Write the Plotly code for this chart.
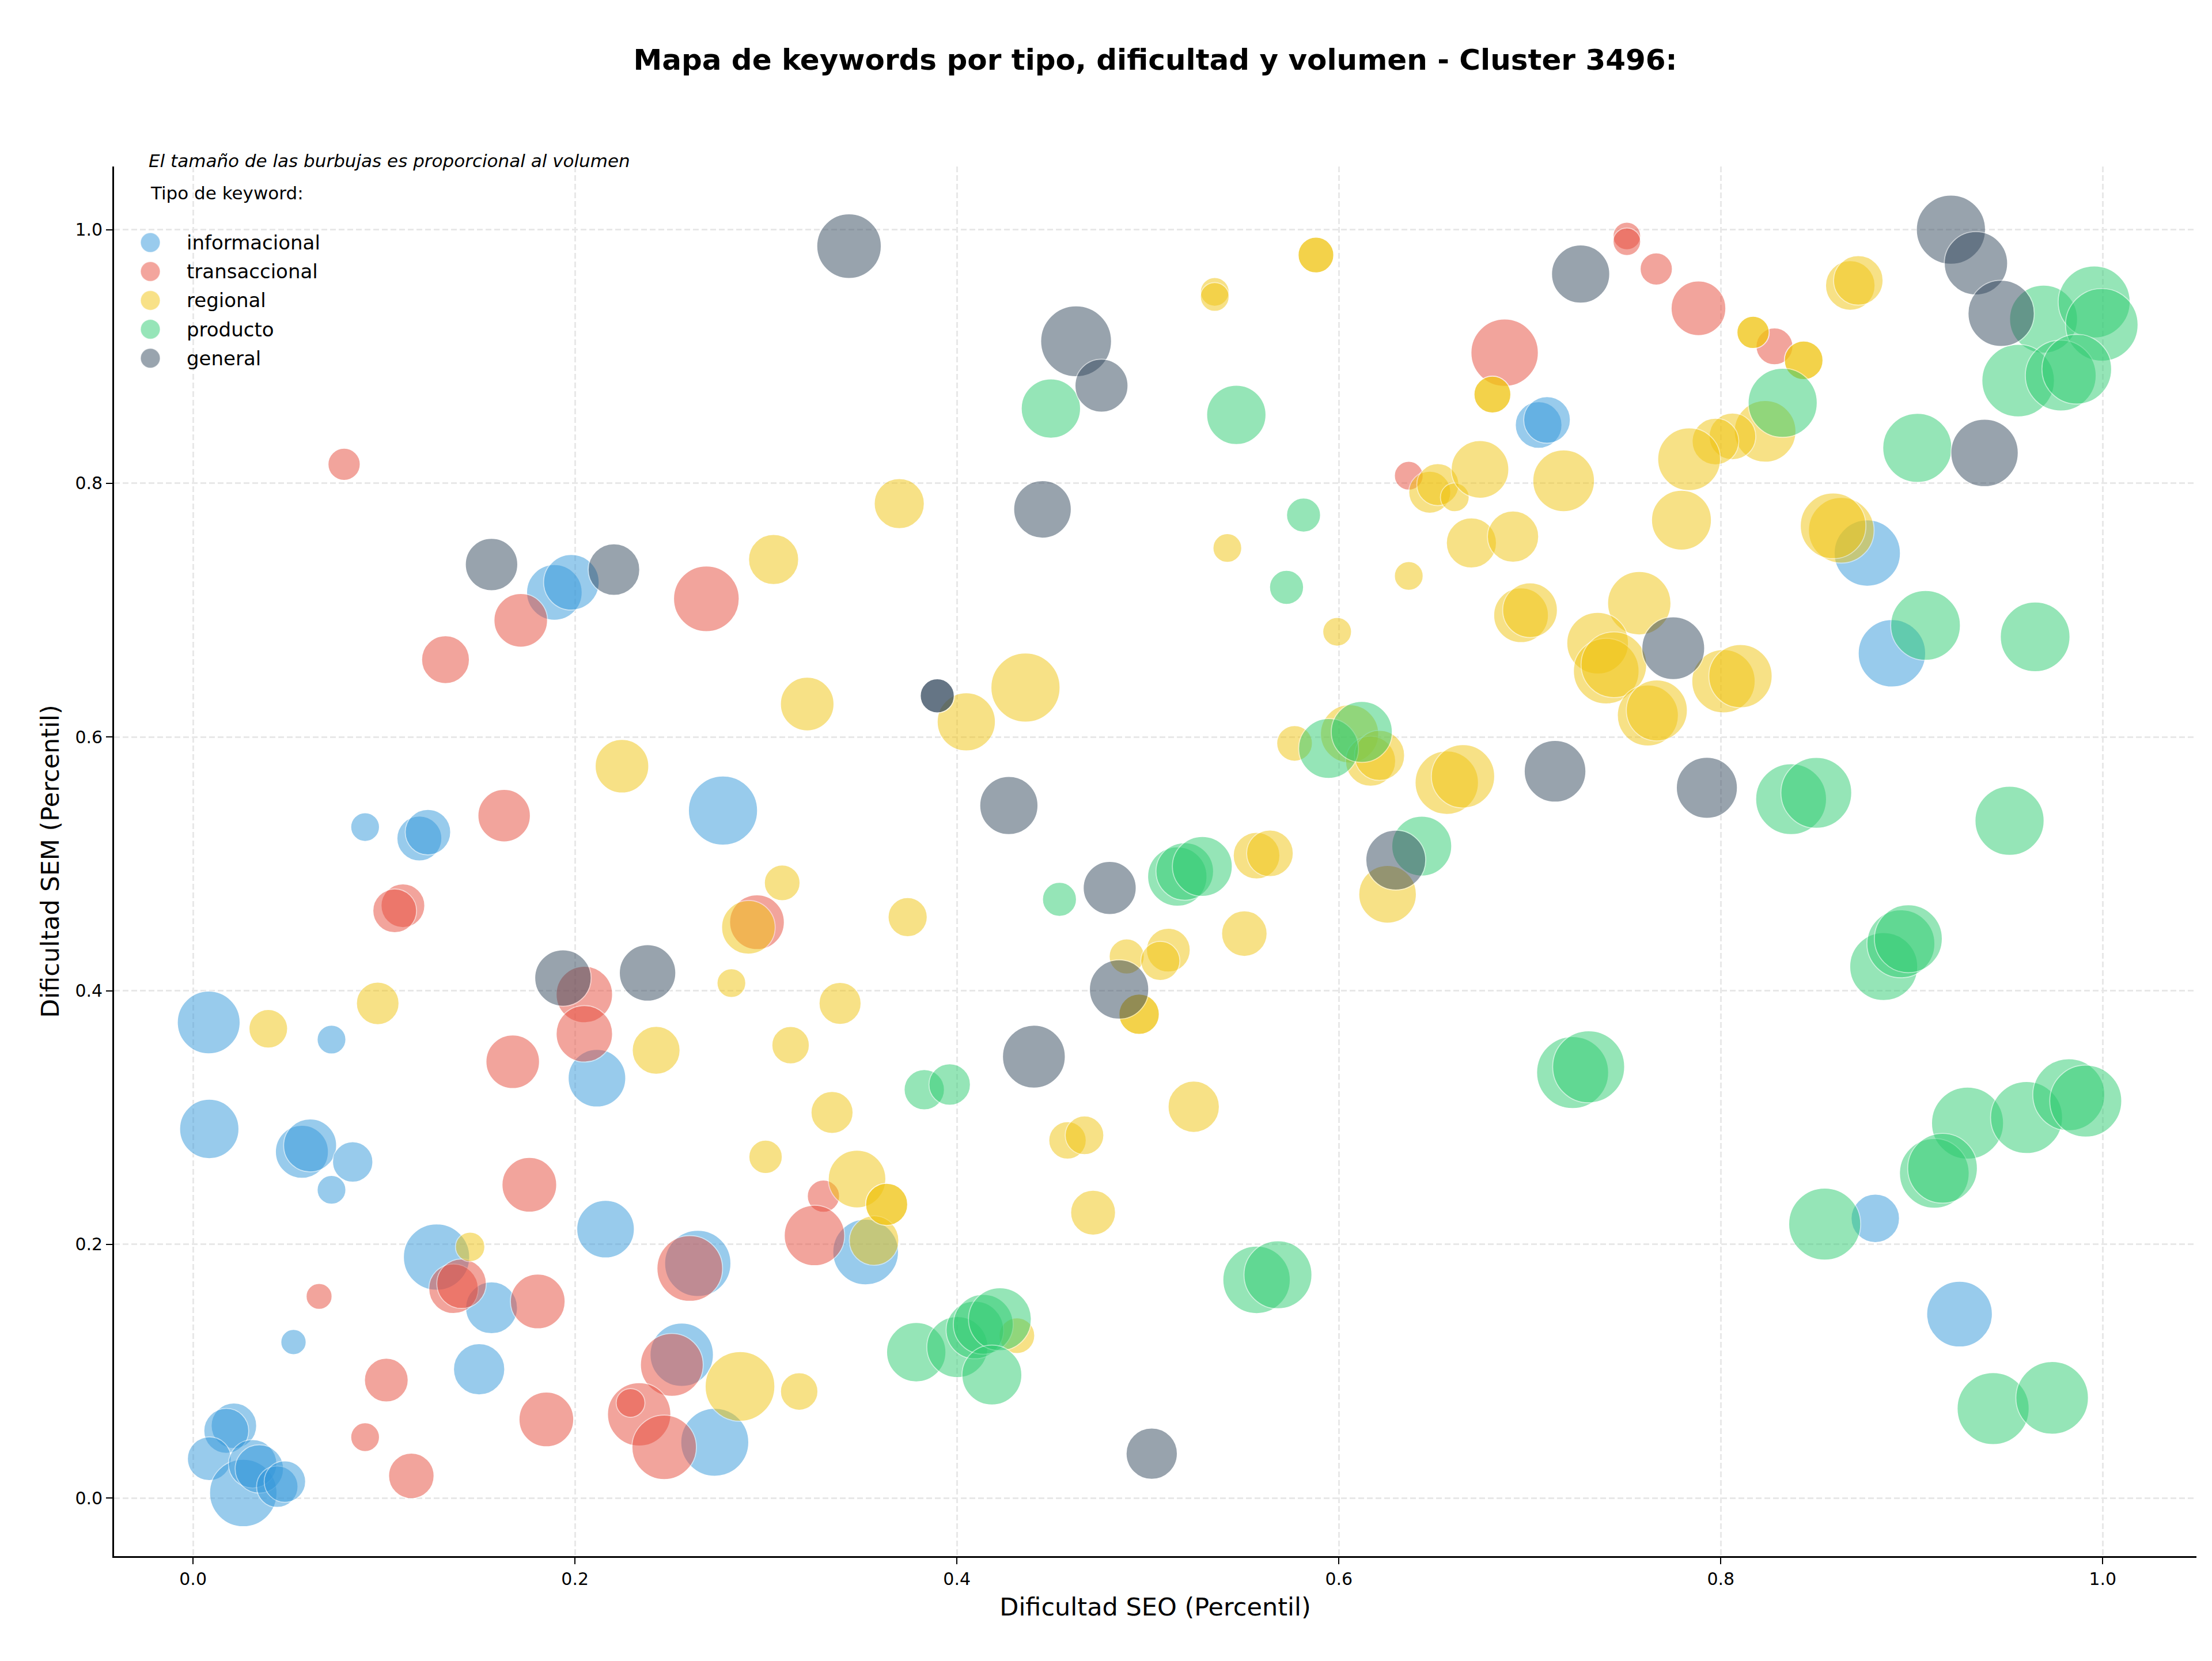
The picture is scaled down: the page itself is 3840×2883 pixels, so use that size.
import plotly.graph_objects as go

# ---------------- data ----------------
tipos = ["informacional", "transaccional", "regional", "producto", "general"]

x_informacional = [0.1892, 0.1981, 0.2775, 0.0901, 0.1185, 0.1230, 0.0082, 0.0725, 0.2115, 0.0085,
                   0.0570, 0.0613, 0.0836, 0.0725, 0.2160, 0.1275, 0.1563, 0.0526, 0.1498, 0.2643,
                   0.2559, 0.2732, 0.0214, 0.0174, 0.0085, 0.0263, 0.0312, 0.0347, 0.0441, 0.0481,
                   0.3522, 0.7046, 0.7090, 0.8767, 0.8896, 0.8809, 0.9250]
y_informacional = [0.714, 0.722, 0.542, 0.529, 0.520, 0.525, 0.375, 0.3615, 0.331, 0.291,
                   0.273, 0.278, 0.265, 0.243, 0.212, 0.190, 0.150, 0.123, 0.1015, 0.185,
                   0.113, 0.044, 0.057, 0.053, 0.031, 0.004, 0.027, 0.023, 0.009, 0.013,
                   0.194, 0.846, 0.850, 0.745, 0.666, 0.2205, 0.145]
vol_informacional = [582, 582, 900, 156, 380, 390, 743, 156, 625, 663,
                     529, 529, 306, 156, 625, 827, 506, 121, 495, 827,
                     756, 870, 390, 380, 361, 856, 441, 441, 324, 324,
                     812, 410, 410, 827, 856, 441, 812]

x_transaccional = [0.0791, 0.1716, 0.1322, 0.2688, 0.1629, 0.1099, 0.1056, 0.2953, 0.2049, 0.2049,
                   0.1674, 0.1761, 0.3301, 0.3254, 0.1364, 0.1406, 0.1805, 0.0660, 0.1012, 0.0901,
                   0.1143, 0.1850, 0.2601, 0.2507, 0.2336, 0.2291, 0.2467, 0.6868, 0.6366, 0.7508,
                   0.7508, 0.7662, 0.7883, 0.8281]
y_transaccional = [0.815, 0.692, 0.661, 0.709, 0.538, 0.467, 0.463, 0.454, 0.397, 0.366,
                   0.344, 0.247, 0.238, 0.207, 0.165, 0.169, 0.155, 0.159, 0.093, 0.048,
                   0.0175, 0.062, 0.181, 0.105, 0.066, 0.075, 0.040, 0.903, 0.806, 0.995,
                   0.9905, 0.969, 0.938, 0.908]
vol_transaccional = [196, 541, 431, 812, 518, 361, 361, 564, 600, 600,
                     541, 564, 196, 689, 462, 462, 564, 127, 361, 156,
                     390, 564, 812, 743, 756, 156, 784, 856, 156, 144,
                     144, 196, 564, 256]

x_regional = [0.3040, 0.3216, 0.2246, 0.3085, 0.2908, 0.2819, 0.0394, 0.0967, 0.2425, 0.3129,
              0.2998, 0.1451, 0.2864, 0.3174, 0.5880, 0.5350, 0.5350, 0.6804, 0.6476, 0.6518,
              0.6607, 0.6739, 0.6694, 0.6912, 0.5416, 0.6366, 0.5991, 0.3698, 0.4049, 0.4359,
              0.5768, 0.6056, 0.6166, 0.6213, 0.6565, 0.6650, 0.8169, 0.8434, 0.8678, 0.8720,
              0.8232, 0.8061, 0.7972, 0.7834, 0.7177, 0.7794, 0.8631, 0.8588, 0.6954, 0.7001,
              0.7573, 0.7355, 0.7400, 0.7440, 0.7618, 0.7665, 0.8014, 0.8103, 0.5569, 0.5639,
              0.6255, 0.3742, 0.4889, 0.5107, 0.5065, 0.5505, 0.4954, 0.3388, 0.3346, 0.4579,
              0.4668, 0.5240, 0.4713, 0.3477, 0.3632, 0.3566, 0.4314,
              0.5880, 0.8169, 0.8434, 0.6804, 0.4954, 0.3632]
y_regional = [0.740, 0.626, 0.577, 0.485, 0.450, 0.406, 0.370, 0.390, 0.353, 0.357,
              0.269, 0.198, 0.088, 0.084, 0.980, 0.951, 0.947, 0.870, 0.793, 0.799,
              0.789, 0.811, 0.753, 0.758, 0.749, 0.727, 0.683, 0.784, 0.612, 0.639,
              0.595, 0.6025, 0.581, 0.5855, 0.564, 0.569, 0.919, 0.897, 0.956, 0.960,
              0.841, 0.837, 0.833, 0.819, 0.802, 0.771, 0.763, 0.7665, 0.696, 0.700,
              0.7055, 0.674, 0.652, 0.657, 0.617, 0.621, 0.644, 0.648, 0.5065, 0.5083,
              0.476, 0.458, 0.427, 0.432, 0.4235, 0.445, 0.3815, 0.390, 0.304, 0.282,
              0.286, 0.3085, 0.225, 0.2515, 0.2315, 0.203, 0.128,
              0.980, 0.919, 0.897, 0.870, 0.3815, 0.2315]
vol_regional = [473, 541, 541, 240, 541, 156, 281, 342, 431, 264,
                210, 163, 915, 264, 240, 156, 156, 256, 333, 333,
                156, 625, 473, 495, 156, 156, 156, 473, 638, 900,
                240, 638, 473, 473, 756, 756, 196, 281, 462, 462,
                716, 410, 410, 743, 716, 676, 812, 812, 564, 564,
                756, 716, 812, 812, 702, 702, 756, 756, 410, 410,
                625, 289, 232, 361, 289, 390, 306, 333, 333, 264,
                281, 495, 380, 625, 333, 462, 240,
                240, 196, 281, 256, 306, 333]

x_producto = [0.4492, 0.5463, 0.5815, 0.5726, 0.5946, 0.6120, 0.6434, 0.4537, 0.5154, 0.5193,
              0.5285, 0.3829, 0.3962, 0.5569, 0.5681, 0.3787, 0.4002, 0.4094, 0.4138, 0.4225,
              0.4183, 0.8324, 0.9690, 0.9955, 0.9995, 0.9557, 0.9780, 0.9864, 0.9029, 0.9072,
              0.9646, 0.8368, 0.8500, 0.9512, 0.8853, 0.8943, 0.8982, 0.7224, 0.7308, 0.9292,
              0.9601, 0.9822, 0.9911, 0.9118, 0.9161, 0.8544, 0.9426, 0.9735]
y_producto = [0.859, 0.854, 0.775, 0.718, 0.591, 0.604, 0.514, 0.472, 0.490, 0.494,
              0.498, 0.322, 0.326, 0.172, 0.176, 0.115, 0.119, 0.1325, 0.137, 0.141,
              0.097, 0.8635, 0.9295, 0.943, 0.925, 0.881, 0.885, 0.890, 0.828, 0.688,
              0.679, 0.551, 0.556, 0.534, 0.419, 0.437, 0.441, 0.3355, 0.340, 0.2956,
              0.300, 0.318, 0.313, 0.256, 0.260, 0.216, 0.0705, 0.079]
vol_producto = [663, 663, 218, 218, 676, 702, 676, 218, 663, 625,
                676, 306, 324, 856, 870, 663, 702, 625, 676, 743,
                676, 900, 870, 977, 992, 992, 946, 915, 900, 915,
                915, 946, 946, 900, 870, 870, 870, 977, 977, 977,
                977, 977, 977, 915, 915, 977, 977, 992]

x_general = [0.1563, 0.2204, 0.1937, 0.2380, 0.3435, 0.4624, 0.4757, 0.4448, 0.3897, 0.3897,
             0.4272, 0.4800, 0.4849, 0.4403, 0.5020, 0.6298, 0.7266, 0.9205, 0.9336, 0.9468,
             0.9381, 0.7751, 0.7132, 0.7927]
y_general = [0.736, 0.732, 0.410, 0.414, 0.987, 0.912, 0.877, 0.7795, 0.6325, 0.6325,
             0.546, 0.481, 0.401, 0.348, 0.035, 0.503, 0.965, 1.000, 0.9735, 0.934,
             0.824, 0.670, 0.573, 0.560]
vol_general = [518, 501, 600, 600, 784, 946, 529, 625, 218, 218,
               638, 529, 663, 743, 495, 676, 638, 900, 756, 827,
               856, 743, 716, 702]

series = {
    "informacional": (x_informacional, y_informacional, vol_informacional),
    "transaccional": (x_transaccional, y_transaccional, vol_transaccional),
    "regional": (x_regional, y_regional, vol_regional),
    "producto": (x_producto, y_producto, vol_producto),
    "general": (x_general, y_general, vol_general),
}

titulo = "Mapa de keywords por tipo, dificultad y volumen - Cluster 3496:"
nota = "El tamaño de las burbujas es proporcional al volumen"
titulo_leyenda = "Tipo de keyword:"
eje_x = "Dificultad SEO (Percentil)"
eje_y = "Dificultad SEM (Percentil)"

# ---------------- styling ----------------
colores = {"informacional": "#3498db", "transaccional": "#e74c3c", "regional": "#f1c40f",
           "producto": "#2ecc71", "general": "#34495e"}
ALPHA = 0.5
FONT = "DejaVu Sans"
W, H = 3840, 2883
ML, MR, MT, MB = 198, 27, 289, 182

def rgba(hexc, a):
    h = hexc.lstrip("#")
    return "rgba(%d,%d,%d,%.2f)" % (int(h[0:2], 16), int(h[2:4], 16), int(h[4:6], 16), a)

fig = go.Figure()
for t in tipos:
    xs, ys, vs = series[t]
    fig.add_trace(go.Scatter(
        x=xs, y=ys, mode="markers", name=t, showlegend=False,
        marker=dict(size=vs, sizemode="area", sizeref=0.125, color=colores[t],
                    opacity=ALPHA, line=dict(color="white", width=1.7)),
    ))

all_x = sum([series[t][0] for t in tipos], [])
all_y = sum([series[t][1] for t in tipos], [])
px_ = 0.05 * (max(all_x) - min(all_x))
py_ = 0.05 * (max(all_y) - min(all_y))
xr = [min(all_x) - px_, max(all_x) + px_]
yr = [min(all_y) - py_, max(all_y) + py_]

axis_common = dict(
    showline=True, linecolor="black", linewidth=2.6, mirror=False,
    ticks="outside", ticklen=11, tickwidth=2.4, tickcolor="black",
    tick0=0, dtick=0.2, tickformat=".1f",
    tickfont=dict(family=FONT, size=30, color="black"),
    showgrid=True, gridcolor="#e8e8e8", gridwidth=2.5, griddash="10px,5px",
    zeroline=False,
)

fig.update_layout(
    width=W, height=H,
    margin=dict(l=ML, r=MR, t=MT, b=MB, autoexpand=False),
    paper_bgcolor="white", plot_bgcolor="white",
    font=dict(family=FONT, color="black"),
    title=dict(text="<b>" + titulo + "</b>", x=0.5, xref="paper", xanchor="center",
               y=1 - 103 / H, yref="container", yanchor="middle",
               font=dict(family=FONT, size=50, color="black")),
    xaxis=dict(range=xr, title=dict(text=eje_x, font=dict(family=FONT, size=43), standoff=18),
               **axis_common),
    yaxis=dict(range=yr, title=dict(text=eje_y, font=dict(family=FONT, size=43), standoff=15),
               **axis_common),
    showlegend=False,
)

# ---------------- custom legend (matplotlib-like, large markers) ----------------
pw, ph = W - ML - MR, H - MT - MB
def pxx(v):
    return (v - ML) / pw
def pxy(v):
    return (H - MB - v) / ph

fig.add_annotation(text="<i>" + nota + "</i>", xref="paper", yref="paper",
                   x=pxx(256), y=pxy(279), xanchor="left", yanchor="middle",
                   showarrow=False, font=dict(family=FONT, size=31, color="black"))
fig.add_annotation(text=titulo_leyenda, xref="paper", yref="paper",
                   x=pxx(259), y=pxy(335), xanchor="left", yanchor="middle",
                   showarrow=False, font=dict(family=FONT, size=31, color="black"))
row0, step, r = 421, 50.2, 17
for i, t in enumerate(tipos):
    yc = row0 + i * step
    fig.add_shape(type="circle", xref="paper", yref="paper", xsizemode="pixel", ysizemode="pixel",
                  xanchor=pxx(261), yanchor=pxy(yc), x0=-r, x1=r, y0=-r, y1=r,
                  fillcolor=rgba(colores[t], ALPHA), line=dict(color="rgba(255,255,255,0.5)", width=1.5),
                  layer="above")
    fig.add_annotation(text=t, xref="paper", yref="paper", x=pxx(322), y=pxy(yc),
                       xanchor="left", yanchor="middle", showarrow=False,
                       font=dict(family=FONT, size=34, color="black"))

fig.write_html("out.html")
